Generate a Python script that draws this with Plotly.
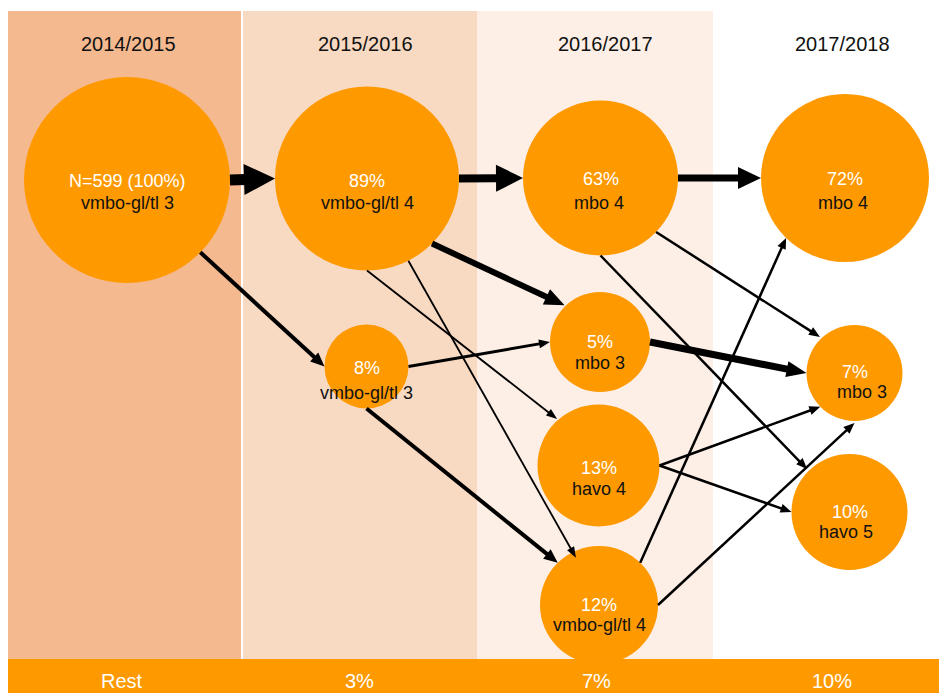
import math
import plotly.graph_objects as go

# ---------------- data ----------------
years = ["2014/2015", "2015/2016", "2016/2017", "2017/2018"]
rest_labels = ["Rest", "3%", "7%", "10%"]

node_pct = ["N=599 (100%)", "89%", "63%", "72%", "8%", "5%", "13%", "12%", "7%", "10%"]
node_label = ["vmbo-gl/tl 3", "vmbo-gl/tl 4", "mbo 4", "mbo 4", "vmbo-gl/tl 3",
              "mbo 3", "havo 4", "vmbo-gl/tl 4", "mbo 3", "havo 5"]

flow_src = [0, 1, 2, 0, 1, 4, 1, 1, 4, 2, 2, 5, 6, 6, 7, 7]
flow_dst = [1, 2, 3, 4, 5, 5, 6, 7, 7, 8, 9, 8, 8, 9, 3, 8]

# ---------------- layout geometry (pixels) ----------------
W, H = 939, 693
node_cx = [127, 367, 600.5, 845, 366.5, 600, 598.5, 599, 854.5, 849.5]
node_cy = [180, 178.5, 178, 178, 366.5, 342, 465.5, 605, 373, 512]
node_r = [103, 92, 77.5, 84, 42, 50, 61, 59, 48, 58]
pct_dy = [1, 2, 1, 1, 1, 0, 2, -0.5, -1, 0]
lab_dy = [23, 24, 25, 25, 26, 20.5, 23, 19.5, 19, 19.5]
lab_dx = [0, 0, -2, -2, 0, 0, 0, 0, 7, -4]

# arrow anchors: angle (deg, y down) on source / target circle
src_ang = [0, 0, 0, 44.6, 45, 0, 90, 63.3, 90, 44.2, 90, 0, 0, 0, -45.7, 0]
dst_ang = [180, 180, 180, 180, -134, 180, -131.7, -116, -134.3, -133.8, -134.7, 180, 135.4, 180, 134.5, 90]
dst_frac = [1, 1, 1, 1, 1.02, 1, 1.02, 0.89, 1, 1.04, 1.04, 1, 1, 1, 1, 1.04]
shaft_w = [11, 8, 7, 4, 6, 3, 1.8, 1.8, 4, 2.5, 2.5, 7, 2.5, 2.5, 2.5, 2.5]
head_len = [31, 27, 23, 14, 20, 11, 11, 11, 14, 11, 11, 20, 11, 11, 11, 11]
head_wid = [31, 27, 22, 12, 17, 9, 8, 8, 12, 9, 9, 16, 9, 9, 9, 9]

band_x0 = [8, 243, 477]
band_x1 = [241, 477, 713]
band_col = ["#F5B990", "#F8D9C2", "#FDEFE6"]
year_x = [128, 365, 605, 842]
rest_x = [122, 359, 596, 832]

ORANGE = "#FF9900"
FONT = "Liberation Sans, Arial, sans-serif"

shapes = []
annotations = []

# background bands
for x0, x1, c in zip(band_x0, band_x1, band_col):
    shapes.append(dict(type="rect", xref="x", yref="y", x0=x0, x1=x1, y0=11, y1=659,
                       fillcolor=c, line=dict(width=0), layer="below"))
# bottom bar
shapes.append(dict(type="rect", xref="x", yref="y", x0=8, x1=W, y0=659, y1=H,
                   fillcolor=ORANGE, line=dict(width=0), layer="below"))

# circles
for cx, cy, r in zip(node_cx, node_cy, node_r):
    shapes.append(dict(type="circle", xref="x", yref="y", x0=cx - r, x1=cx + r,
                       y0=cy - r, y1=cy + r, fillcolor=ORANGE, line=dict(width=0),
                       layer="above"))

# arrows
for i, (s, d) in enumerate(zip(flow_src, flow_dst)):
    a1 = math.radians(src_ang[i])
    a2 = math.radians(dst_ang[i])
    sx = node_cx[s] + node_r[s] * math.cos(a1)
    sy = node_cy[s] + node_r[s] * math.sin(a1)
    tx = node_cx[d] + node_r[d] * dst_frac[i] * math.cos(a2)
    ty = node_cy[d] + node_r[d] * dst_frac[i] * math.sin(a2)
    dx, dy = tx - sx, ty - sy
    L = math.hypot(dx, dy)
    ux, uy = dx / L, dy / L
    px, py = -uy, ux
    hl, hw = head_len[i], head_wid[i]
    bx, by = tx - ux * hl, ty - uy * hl
    shapes.append(dict(type="line", xref="x", yref="y", x0=sx, y0=sy,
                       x1=bx + ux * 1.5, y1=by + uy * 1.5,
                       line=dict(color="black", width=shaft_w[i]), layer="above"))
    path = "M{:.2f},{:.2f} L{:.2f},{:.2f} L{:.2f},{:.2f} Z".format(
        tx, ty, bx + px * hw / 2, by + py * hw / 2, bx - px * hw / 2, by - py * hw / 2)
    shapes.append(dict(type="path", xref="x", yref="y", path=path,
                       fillcolor="black", line=dict(width=0), layer="above"))

# node texts
for i in range(len(node_pct)):
    annotations.append(dict(x=node_cx[i], y=node_cy[i] + pct_dy[i], xref="x", yref="y",
                            text=node_pct[i], showarrow=False,
                            font=dict(family=FONT, size=18, color="white")))
    annotations.append(dict(x=node_cx[i] + lab_dx[i], y=node_cy[i] + lab_dy[i], xref="x", yref="y",
                            text=node_label[i], showarrow=False,
                            font=dict(family=FONT, size=18, color="#111111")))

# year titles
for x, t in zip(year_x, years):
    annotations.append(dict(x=x, y=44, xref="x", yref="y", text=t, showarrow=False,
                            font=dict(family=FONT, size=20, color="#111111")))
# rest labels
for x, t in zip(rest_x, rest_labels):
    annotations.append(dict(x=x, y=681, xref="x", yref="y", text=t, showarrow=False,
                            font=dict(family=FONT, size=20, color="white")))

fig = go.Figure()
fig.add_trace(go.Scatter(x=[0, W], y=[0, H], mode="markers",
                         marker=dict(opacity=0), hoverinfo="skip", showlegend=False))
fig.update_layout(
    width=W, height=H, margin=dict(l=0, r=0, t=0, b=0),
    paper_bgcolor="white", plot_bgcolor="white",
    xaxis=dict(range=[0, W], visible=False, fixedrange=True),
    yaxis=dict(range=[H, 0], visible=False, fixedrange=True),
    shapes=shapes, annotations=annotations, showlegend=False,
)
fig.write_html("out.html", config={"displayModeBar": False},
               post_script="document.body.style.margin='0';document.body.style.overflow='hidden';")
